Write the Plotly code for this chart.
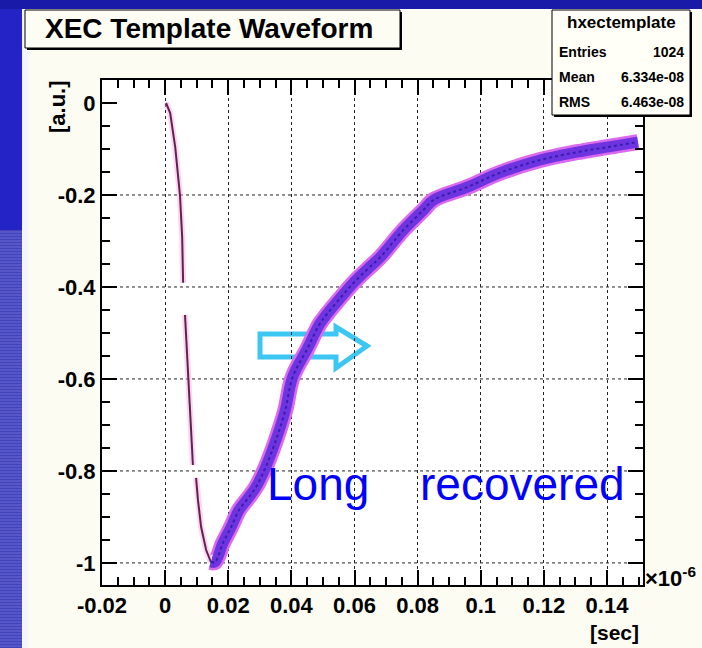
import plotly.graph_objects as go

# ---- waveform data (time in units of 1e-6 s, amplitude in a.u.) ----
rise_t = [0.0003, 0.0016, 0.0032, 0.0047, 0.0054, 0.0057]
rise_v = [0.0, -0.022, -0.096, -0.200, -0.291, -0.391]

drop_t = [0.0063, 0.0070, 0.0079, 0.0088]
drop_v = [-0.461, -0.552, -0.667, -0.787]

peak_t = [0.0098, 0.0104, 0.0114, 0.0130, 0.0145]
peak_v = [-0.815, -0.863, -0.922, -0.972, -0.998]

tail_t = [0.0145, 0.0158, 0.0183, 0.0209, 0.0234, 0.0262, 0.0288, 0.0319,
          0.0350, 0.0380, 0.0404, 0.0450, 0.0490, 0.0515, 0.0560, 0.0597,
          0.0640, 0.0682, 0.0755, 0.0818, 0.0850, 0.0957, 0.1060, 0.1188,
          0.1305, 0.1400, 0.1498]
tail_v = [-0.998, -0.998, -0.957, -0.922, -0.885, -0.860, -0.835, -0.791,
          -0.735, -0.670, -0.596, -0.535, -0.480, -0.457, -0.420, -0.391,
          -0.362, -0.335, -0.276, -0.233, -0.211, -0.183, -0.152, -0.124,
          -0.107, -0.096, -0.085]

x_ticks = [-0.02, 0, 0.02, 0.04, 0.06, 0.08, 0.10, 0.12, 0.14]
x_labels = ["-0.02", "0", "0.02", "0.04", "0.06", "0.08", "0.1", "0.12", "0.14"]
y_ticks = [0, -0.2, -0.4, -0.6, -0.8, -1.0]
y_labels = ["0", "-0.2", "-0.4", "-0.6", "-0.8", "-1"]

stats_rows = [("Entries", "1024"), ("Mean", "6.334e-08"), ("RMS", "6.463e-08")]

W, H = 702, 648
L, R, T, B = 102, 643, 80, 585


def fx(p):
    return (p - L) / (R - L)


def fy(p):
    return (B - p) / (B - T)


FONT = "Liberation Sans, Arial, Helvetica, sans-serif"

fig = go.Figure()

# thin leading edge segments
for tt, vv in [(rise_t, rise_v), (drop_t, drop_v), (peak_t, peak_v)]:
    fig.add_trace(go.Scatter(x=tt, y=vv, mode="lines",
                             line=dict(color="rgba(255,160,225,0.45)", width=6),
                             hoverinfo="skip", showlegend=False))
    fig.add_trace(go.Scatter(x=tt, y=vv, mode="lines",
                             line=dict(color="#5e2450", width=2),
                             showlegend=False))

# thick recovery band
fig.add_trace(go.Scatter(x=tail_t, y=tail_v, mode="lines",
                         line=dict(color="#dc6aee", width=16, shape="spline"),
                         hoverinfo="skip", showlegend=False))
fig.add_trace(go.Scatter(x=tail_t, y=tail_v, mode="lines",
                         line=dict(color="#6e34e0", width=11, shape="spline"),
                         showlegend=False))
fig.add_trace(go.Scatter(x=tail_t, y=tail_v, mode="lines",
                         line=dict(color="#3420b0", width=2, dash="dot", shape="spline"),
                         hoverinfo="skip", showlegend=False))

shapes = []

# slide background pieces
shapes.append(dict(type="rect", xref="paper", yref="paper", layer="below",
                   x0=fx(0), x1=fx(22), y0=fy(0), y1=fy(H),
                   fillcolor="#4343bb", line=dict(width=0)))
shapes.append(dict(type="rect", xref="paper", yref="paper", layer="below",
                   x0=fx(0), x1=fx(22), y0=fy(0), y1=fy(230),
                   fillcolor="#2424c6", line=dict(width=0)))
stripe = " ".join(f"M{fx(0)},{fy(yy)} L{fx(22)},{fy(yy)}" for yy in range(232, H, 3))
shapes.append(dict(type="path", xref="paper", yref="paper", layer="below",
                   path=stripe, line=dict(color="#6b6bd2", width=1)))
shapes.append(dict(type="rect", xref="paper", yref="paper", layer="below",
                   x0=fx(0), x1=fx(W), y0=fy(0), y1=fy(9),
                   fillcolor="#1a1aa8", line=dict(width=0)))
shapes.append(dict(type="rect", xref="paper", yref="paper", layer="below",
                   x0=fx(22), x1=fx(28), y0=fy(9), y1=fy(H),
                   fillcolor="#f4f4fe", line=dict(width=0)))

# dotted horizontal grid (no line at zero)
for v in y_ticks[1:]:
    shapes.append(dict(type="line", xref="paper", yref="y", layer="below",
                       x0=0, x1=1, y0=v, y1=v,
                       line=dict(color="#222222", width=1, dash="dot")))

# title box with shadow
shapes.append(dict(type="rect", xref="paper", yref="paper",
                   x0=fx(27), x1=fx(402), y0=fy(12), y1=fy(50),
                   fillcolor="#000000", line=dict(width=0)))
shapes.append(dict(type="rect", xref="paper", yref="paper",
                   x0=fx(25), x1=fx(400), y0=fy(10), y1=fy(48),
                   fillcolor="#fdfdf4", line=dict(color="#000000", width=1)))

# statistics box with shadow
shapes.append(dict(type="rect", xref="paper", yref="paper",
                   x0=fx(554), x1=fx(692), y0=fy(12), y1=fy(117),
                   fillcolor="#000000", line=dict(width=0)))
shapes.append(dict(type="rect", xref="paper", yref="paper",
                   x0=fx(552), x1=fx(690), y0=fy(10), y1=fy(115),
                   fillcolor="#fffff7", line=dict(color="#000000", width=1)))

# cyan outline arrow
arrow_px = [(260, 334), (336, 334), (336, 327), (367, 346), (336, 368),
            (336, 357), (260, 357)]
arrow_path = "M" + " L".join(f"{fx(a)},{fy(b)}" for a, b in arrow_px) + " Z"
shapes.append(dict(type="path", xref="paper", yref="paper", layer="between",
                   path=arrow_path, fillcolor="rgba(255,255,255,0.9)",
                   line=dict(color="#3cc6f2", width=5)))

annotations = [
    dict(text="XEC Template Waveform", x=fx(43), y=fy(29), xanchor="left",
         yanchor="middle", font=dict(family=FONT, size=28, color="black", weight="bold")),
    dict(text="hxectemplate", x=fx(621), y=fy(23), xanchor="center",
         yanchor="middle", font=dict(family=FONT, size=17, color="black", weight="bold")),
    dict(text="[a.u.]", x=fx(57), y=fy(107), xanchor="center", yanchor="middle",
         textangle=-90, font=dict(family=FONT, size=22, color="black", weight="bold")),
    dict(text="[sec]", x=fx(641), y=fy(632), xanchor="right", yanchor="middle",
         font=dict(family=FONT, size=21, color="black", weight="bold")),
    dict(text="×10<sup>-6</sup>", x=fx(643), y=fy(577), xanchor="left", yanchor="middle",
         font=dict(family=FONT, size=22, color="black", weight="bold")),
    dict(text="Long", x=fx(265), y=fy(484), xanchor="left", yanchor="middle",
         font=dict(family=FONT, size=46, color="#0000ff")),
    dict(text="recovered", x=fx(418), y=fy(484), xanchor="left", yanchor="middle",
         font=dict(family=FONT, size=46, color="#0000ff")),
]
for i, (name, val) in enumerate(stats_rows):
    yy = 52 + 25 * i
    annotations.append(dict(text=name, x=fx(557), y=fy(yy), xanchor="left",
                            yanchor="middle",
                            font=dict(family=FONT, size=14, color="black", weight="bold")))
    annotations.append(dict(text=val, x=fx(686), y=fy(yy), xanchor="right",
                            yanchor="middle",
                            font=dict(family=FONT, size=14, color="black", weight="bold")))
for a in annotations:
    a.update(xref="paper", yref="paper", showarrow=False)

axis_common = dict(
    showline=True, linecolor="black", linewidth=2, mirror="allticks",
    ticks="inside", ticklen=15, tickwidth=1.5, tickcolor="black",
    tickfont=dict(family=FONT, size=22, color="black", weight="bold"),
    zeroline=False,
)

fig.update_layout(
    width=W, height=H,
    margin=dict(l=L, r=W - R, t=T, b=H - B, pad=0),
    paper_bgcolor="#fcfcf3",
    plot_bgcolor="white",
    shapes=shapes,
    annotations=annotations,
    xaxis=dict(range=[-0.02, 0.1514], tickmode="array", tickvals=x_ticks,
               ticktext=x_labels, showgrid=True, gridcolor="#222222",
               gridwidth=1, griddash="dot",
               minor=dict(ticks="inside", ticklen=8, tickwidth=1.5,
                          tickcolor="black", dtick=0.005, tick0=0,
                          showgrid=False),
               **axis_common),
    yaxis=dict(range=[-1.048, 0.05], tickmode="array", tickvals=y_ticks,
               ticktext=y_labels, showgrid=False,
               minor=dict(ticks="inside", ticklen=8, tickwidth=1.5,
                          tickcolor="black", dtick=0.05, tick0=0,
                          showgrid=False),
               **axis_common),
    showlegend=False,
)

fig.write_html("out.html")
